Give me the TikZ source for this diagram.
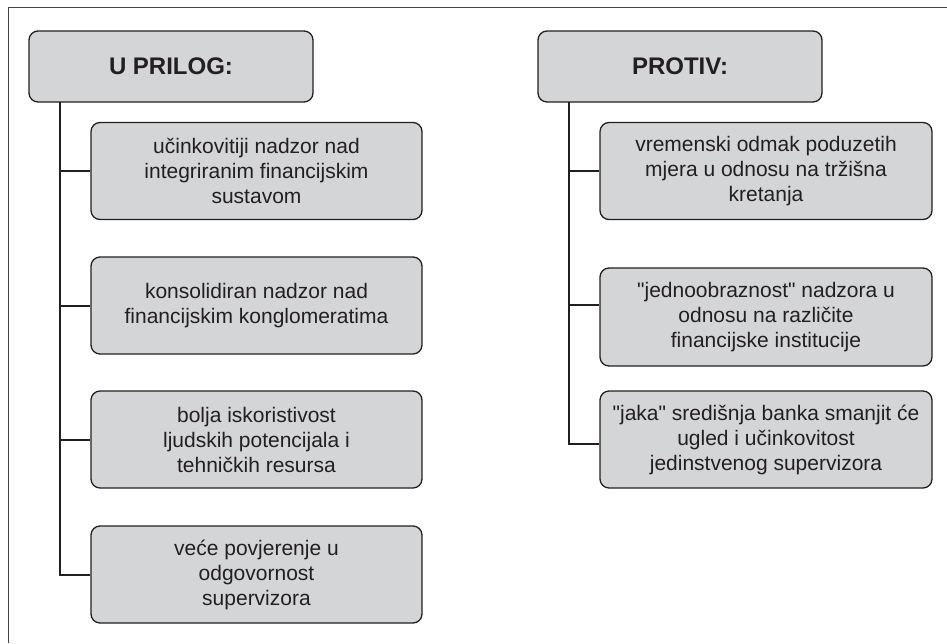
\documentclass[tikz,border=0pt]{standalone}
\usepackage{fontspec}
\setmainfont{Liberation Sans}[Ligatures=TeXOff]
\definecolor{boxgray}{HTML}{D4D5D7}
\definecolor{inkdark}{HTML}{231F20}
\tikzset{
  headbox/.style = {draw=inkdark, fill=boxgray, line width=1.3pt, rounded corners=9pt,
    minimum width=284pt, minimum height=71pt, text=inkdark,
    font=\fontsize{24}{28}\selectfont\bfseries},
  itembox/.style = {draw=inkdark, fill=boxgray, line width=1.3pt, rounded corners=9pt,
    minimum height=97pt, align=center, text=inkdark,
    font=\fontsize{21}{25}\selectfont},
  branch/.style = {draw=inkdark, line width=2pt}
}
\begin{document}
\begin{tikzpicture}[x=1pt, y=-1pt]
   \useasboundingbox (0,0) rectangle (947,643);
   \draw[line width=0.9pt, color=inkdark!85] (8,643) -- (8,7) -- (947,7);
   % left column
   \node[headbox] (lhead) at (171,66.5) {U PRILOG:};
   \node[itembox, minimum width=331pt] (l1) at (256.5,171) {učinkovitiji nadzor nad\\integriranim financijskim\\sustavom};
   \node[itembox, minimum width=331pt] (l2) at (256.5,305.5) {konsolidiran nadzor nad\\financijskim konglomeratima};
   \node[itembox, minimum width=331pt] (l3) at (256.5,439.5) {bolja iskoristivost\\ljudskih potencijala i\\tehničkih resursa};
   \node[itembox, minimum width=331pt] (l4) at (256.5,574.5) {veće povjerenje u\\odgovornost\\supervizora};
   \coordinate (lx) at (60,102);
   \draw[branch] (lx) |- (l4.west);
   \draw[branch] (lx |- l1.west) -- (l1.west);
   \draw[branch] (lx |- l2.west) -- (l2.west);
   \draw[branch] (lx |- l3.west) -- (l3.west);
   % right column
   \node[headbox] (rhead) at (680,66.5) {PROTIV:};
   \node[itembox, minimum width=332pt] (r1) at (766,171) {vremenski odmak poduzetih\\mjera u odnosu na tržišna\\kretanja};
   \node[itembox, minimum width=332pt, minimum height=98pt] (r2) at (766,317) {"jednoobraznost" nadzora u\\odnosu na različite\\financijske institucije};
   \node[itembox, minimum width=332pt] (r3) at (766,439.5) {"jaka" središnja banka smanjit će\\ugled i učinkovitost\\jedinstvenog supervizora};
   \coordinate (rx) at (569,102);
   \coordinate (r2in) at ([yshift=12pt]r2.west);
   \coordinate (r3in) at ([yshift=-4.5pt]r3.west);
   \draw[branch] (rx) |- (r3in);
   \draw[branch] (rx |- r1.west) -- (r1.west);
   \draw[branch] (rx |- r2in) -- (r2in);
\end{tikzpicture}
\end{document}
